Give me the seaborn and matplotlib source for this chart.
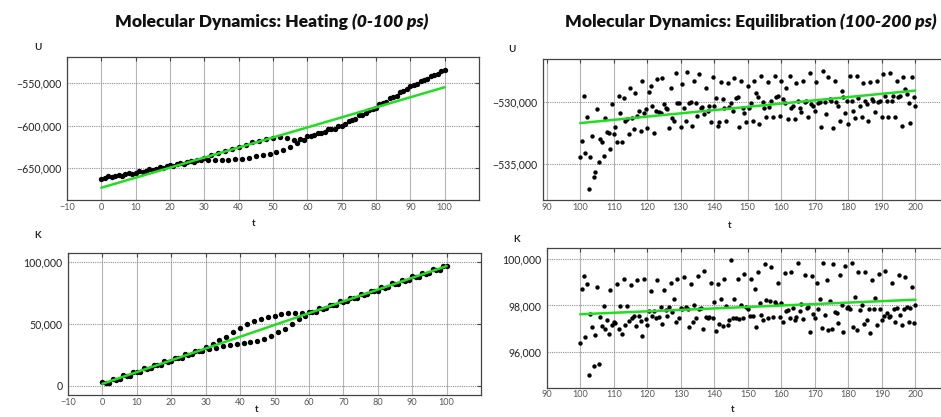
import numpy as np
import matplotlib
matplotlib.use("Agg")
import matplotlib.pyplot as plt
import seaborn as sns
from matplotlib.ticker import FuncFormatter, FixedLocator

sns.set_style("white")
plt.rcParams["font.family"] = ["Lato", "DejaVu Sans"]

# --- Heating, 0-100 ps (one frame per ps), energies in thousands ---
t_heat = np.arange(0, 101)
u_heat = [
    -662.8, -661.5, -660.0, -661.0, -659.2, -658.0, -659.3, -657.6, -656.3, -657.2,
    -655.5, -654.0, -655.0, -653.4, -651.8, -652.6, -650.8, -649.4, -650.2, -648.3,
    -647.0, -647.6, -645.6, -644.5, -645.0, -643.0, -642.0, -642.6, -640.6, -640.8,
    -637.8, -641.0, -635.0, -641.3, -632.5, -641.2, -630.0, -640.8, -627.5, -640.0,
    -625.0, -639.0, -622.5, -637.8, -620.0, -636.5, -618.0, -635.0, -616.0, -633.5,
    -614.5, -631.5, -613.5, -629.0, -614.5, -625.5, -616.5, -621.0, -616.0, -617.5,
    -612.5, -612.4, -611.7, -608.5, -608.3, -607.7, -604.4, -604.3, -603.6, -600.4,
    -600.2, -598.7, -594.6, -593.6, -592.1, -588.0, -587.0, -585.5, -581.4, -580.4,
    -578.9, -574.6, -573.4, -571.7, -567.4, -566.2, -564.5, -560.2, -559.0, -557.3,
    -553.0, -552.2, -550.9, -547.0, -546.2, -544.9, -541.0, -540.2, -538.9, -535.0,
    -534.2,
]
k_heat = [
    2.7, 2.15, 2.5, 5.55, 5.0, 5.35, 8.4, 7.85, 8.2, 11.25,
    10.7, 11.05, 14.1, 13.55, 13.9, 16.95, 16.4, 16.75, 19.8, 19.25,
    19.6, 22.65, 22.1, 22.45, 25.5, 24.95, 25.3, 28.35, 27.8, 28.15,
    31.2, 29.8, 33.6, 30.8, 36.5, 31.8, 39.5, 32.6, 43.0, 33.5,
    46.5, 34.3, 49.5, 35.2, 52.0, 36.4, 54.0, 38.0, 55.5, 40.5,
    56.5, 43.0, 58.0, 46.0, 59.0, 49.5, 58.8, 53.5, 58.5, 56.5,
    59.7, 59.15, 59.5, 62.55, 62.0, 62.35, 65.4, 64.85, 65.2, 68.25,
    67.7, 68.05, 71.1, 70.55, 70.9, 73.95, 73.4, 73.75, 76.8, 76.25,
    76.6, 79.65, 79.1, 79.45, 82.5, 81.95, 82.3, 85.35, 84.8, 85.15,
    88.2, 87.65, 88.0, 91.05, 90.5, 90.85, 93.9, 93.35, 93.7, 96.75,
    96.2,
]
fit_heat_t = [0, 100]
fit_heat_u = [-673.5, -554.7]
fit_heat_k = [1.5, 96.5]

# --- Equilibration, 100-200 ps (every 0.5 ps) ---
t_eq = np.arange(100, 200.5, 0.5)
u_eq = [
    -534.4, -533.1, -529.5, -534.1, -531.25, -537.0, -534.4, -532.7, -536.0, -535.6,
    -530.6, -534.8, -533.0, -533.2, -534.3, -531.3, -532.4, -532.5, -533.8, -530.2,
    -532.6, -532.0, -533.2, -529.5, -530.9, -533.2, -529.7, -531.5, -531.4, -532.6,
    -528.9, -531.3, -532.2, -529.3, -531.1, -530.7, -532.3, -528.3, -530.9, -530.6,
    -532.1, -529.2, -528.75, -530.3, -532.5, -530.7, -528.2, -530.8, -530.9, -528.1,
    -530.2, -530.5, -530.6, -532.1, -528.9, -531.3, -531.5, -527.7, -530.1, -530.1,
    -532.0, -528.6, -530.5, -531.5, -527.6, -530.1, -530.0, -531.9, -528.3, -530.1,
    -531.1, -527.8, -530.5, -530.4, -531.0, -528.9, -530.7, -530.3, -531.6, -528.0,
    -530.3, -529.7, -531.9, -531.6, -528.4, -529.8, -530.5, -531.5, -528.5, -530.4,
    -530.1, -530.7, -528.1, -529.7, -529.6, -532.0, -528.3, -530.5, -530.9, -531.6,
    -528.75, -530.5, -530.1, -531.5, -528.3, -529.3, -529.65, -531.8, -527.9, -530.0,
    -530.5, -531.25, -528.4, -530.4, -529.9, -531.2, -527.9, -529.6, -529.5, -531.1,
    -528.3, -529.8, -530.1, -528.9, -531.4, -527.9, -530.5, -530.3, -531.4, -528.5,
    -529.9, -530.5, -530.8, -528.3, -530.0, -529.9, -531.25, -527.7, -530.2, -530.3,
    -530.7, -528.4, -530.1, -530.0, -532.0, -527.5, -530.0, -531.0, -528.0, -529.8,
    -529.9, -532.1, -528.3, -530.0, -530.3, -531.5, -529.1, -529.6, -530.9, -529.9,
    -531.8, -527.9, -529.9, -530.7, -531.3, -527.9, -529.7, -530.3, -531.2, -528.5,
    -529.9, -530.2, -531.5, -528.4, -529.8, -529.9, -530.8, -528.3, -530.0, -529.9,
    -531.25, -527.8, -529.5, -529.9, -531.25, -527.7, -529.9, -529.5, -531.25, -528.3,
    -529.6, -529.5, -531.9, -528.0, -529.0, -529.4, -530.1, -531.7, -528.0, -529.6,
    -530.3,
]
k_eq = [
    96365, 98700, 99260, 96650, 98920, 94975, 97630, 97050, 95360, 96720,
    98800, 95480, 97510, 97110, 97970, 96970, 97370, 96750, 98690, 97150,
    97300, 97230, 98920, 96970, 97970, 96770, 99160, 97150, 97970, 97330,
    98870, 97470, 97540, 97125, 99120, 97540, 97330, 96680, 99160, 97400,
    97150, 97770, 98630, 97540, 97770, 97440, 99090, 97510, 97940, 97200,
    98660, 97800, 97540, 97940, 98980, 97730, 98260, 97270, 99160, 97440,
    97910, 97840, 99230, 97940, 97830, 97080, 98920, 97300, 98010, 97440,
    99260, 97830, 97910, 96970, 99480, 97480, 97440, 97510, 98980, 97440,
    98160, 96910, 98920, 97200, 98260, 97110, 99130, 97990, 97150, 97370,
    99980, 97440, 98300, 97440, 99160, 97400, 98040, 97440, 99380, 97940,
    97830, 97540, 99130, 97540, 98730, 97080, 99450, 98110, 97580, 97370,
    99780, 98230, 97440, 98200, 99660, 97480, 98160, 98060, 98980, 97480,
    98090, 97300, 99410, 97770, 97800, 97440, 99450, 97870, 97370, 97480,
    99840, 97770, 98060, 97410, 99300, 97910, 97940, 96870, 99260, 97630,
    97440, 98980, 97830, 98300, 97010, 99850, 97580, 99090, 96940, 98200,
    96970, 99810, 97730, 97660, 97230, 99330, 98010, 96870, 99690, 97870,
    97940, 97830, 99840, 97050, 98370, 96940, 99450, 97800, 98010, 97180,
    99450, 97370, 97830, 96820, 99120, 97830, 98340, 97150, 99380, 97830,
    97370, 97540, 99490, 97660, 97510, 97540, 98980, 97830, 97300, 97910,
    99300, 97580, 97150, 97830, 99230, 97940, 97300, 97910, 98800, 97250,
    98010,
]
fit_eq_t = [100, 200]
fit_eq_u = [-531.7, -529.1]
fit_eq_k = [97620, 98250]

xticks_heat = [-10, 0, 10, 20, 30, 40, 50, 60, 70, 80, 90, 100]
xticks_eq = [90, 100, 110, 120, 130, 140, 150, 160, 170, 180, 190, 200]
yticks_u_heat = [-650000, -600000, -550000]
yticks_u_eq = [-535000, -530000]
yticks_k_heat = [0, 50000, 100000]
yticks_k_eq = [96000, 98000, 100000]

GREEN = "#22dd22"
W, H = 941, 417


def fmt_thousands(v, pos):
    s = f"{abs(v):,.0f}"
    return "\u2212" + s if v < -0.5 else s


def style_axis(ax, xlim, ylim, xticks, yticks):
    ax.set_xlim(*xlim)
    ax.set_ylim(*ylim)
    ax.xaxis.set_major_locator(FixedLocator(xticks))
    ax.yaxis.set_major_locator(FixedLocator(yticks))
    ax.yaxis.set_major_formatter(FuncFormatter(fmt_thousands))
    ax.grid(True, axis="x", color="#b5b5b5", lw=0.8, ls="-")
    ax.grid(True, axis="y", color="#909090", lw=0.8, ls=(0, (1, 1)))
    ax.set_axisbelow(True)
    for sp in ax.spines.values():
        sp.set_visible(True)
        sp.set_color("#444444")
        sp.set_linewidth(0.9)
    ax.tick_params(axis="x", direction="in", length=3, top=True, labelsize=6.6,
                   labelcolor="#555555", color="#444444", pad=2)
    ax.tick_params(axis="y", direction="in", length=3, right=True, labelsize=7.6,
                   labelcolor="#222222", color="#444444", pad=4)
    ax.set_xlabel("")
    ax.set_ylabel("")


def add_axes(left, top, right, bottom):
    return fig.add_axes([left / W, 1 - bottom / H, (right - left) / W, (bottom - top) / H])


def panel(ax, t, y, ft, fy, size):
    sns.scatterplot(x=t, y=y, ax=ax, color="black", s=size, linewidth=0, legend=False, zorder=3)
    sns.lineplot(x=ft, y=fy, ax=ax, color=GREEN, lw=1.8, zorder=4)


fig = plt.figure(figsize=(W / 100, H / 100), dpi=100)
fig.patch.set_facecolor("white")

ax1 = add_axes(67, 57, 479, 200)
panel(ax1, t_heat, np.array(u_heat) * 1000, fit_heat_t, np.array(fit_heat_u) * 1000, 15)
style_axis(ax1, (-10, 110), (-688000, -519000), xticks_heat, yticks_u_heat)

ax2 = add_axes(542.7, 59.3, 948.7, 200)
panel(ax2, t_eq, np.array(u_eq) * 1000, fit_eq_t, np.array(fit_eq_u) * 1000, 10)
style_axis(ax2, (88.8, 210), (-537850, -526600), xticks_eq, yticks_u_eq)

ax3 = add_axes(68, 252.7, 481, 395)
panel(ax3, t_heat, np.array(k_heat) * 1000, fit_heat_t, np.array(fit_heat_k) * 1000, 15)
style_axis(ax3, (-10, 110), (-7500, 107300), xticks_heat, yticks_k_heat)

ax4 = add_axes(546.7, 247.7, 949, 387.7)
panel(ax4, t_eq, k_eq, fit_eq_t, fit_eq_k, 10)
style_axis(ax4, (90, 210), (94440, 100500), xticks_eq, yticks_k_eq)

# axis names placed like the original (above y axis, below x axis)
lab = dict(fontsize=7, fontweight="bold", color="#222222", ha="center", va="center")
fig.text(38 / W, 1 - 47 / H, "U", **lab)
fig.text(512 / W, 1 - 50 / H, "U", **lab)
fig.text(38 / W, 1 - 236 / H, "K", **lab)
fig.text(517 / W, 1 - 239 / H, "K", **lab)
fig.text(254 / W, 1 - 224 / H, "t", **lab)
fig.text(730 / W, 1 - 225 / H, "t", **lab)
fig.text(733 / W, 1 - 410 / H, "t", **lab)
fig.text(257 / W, 1 - 410 / H, "t", **lab)

# titles: bold text followed by a bold italic part
renderer = fig.canvas.get_renderer()


def two_part_title(xc, yc, plain, ital):
    a = fig.text(0, 1 - yc / H, plain, fontsize=12.6, fontweight="heavy", va="center", color="#111111")
    b = fig.text(0, 1 - yc / H, ital, fontsize=12.6, fontweight="heavy", style="italic",
                 va="center", color="#111111")
    wa = a.get_window_extent(renderer).width
    wb = b.get_window_extent(renderer).width
    x0 = xc - (wa + wb) / 2
    a.set_x(x0 / W)
    b.set_x((x0 + wa) / W)


two_part_title(272, 22, "Molecular Dynamics: Heating ", "(0-100 ps)")
two_part_title(751, 22, "Molecular Dynamics: Equilibration ", "(100-200 ps)")

fig.savefig("out.png", dpi=100)
